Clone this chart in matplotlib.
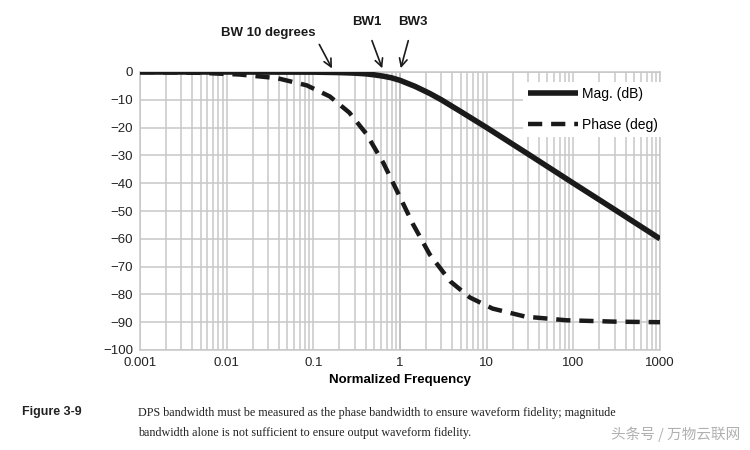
import matplotlib
matplotlib.use('Agg')
import matplotlib.pyplot as plt
from matplotlib.ticker import LogLocator, FixedLocator, NullFormatter

plt.rcParams['font.family'] = ['Liberation Sans', 'DejaVu Sans']

# values
mag_freq = [0.001, 0.01, 0.1, 0.2, 0.3, 0.4, 0.5, 0.64, 0.8, 1.0, 1.5, 2.2, 3.0,
            5.0, 10.0, 30.0, 100.0, 300.0, 1000.0]
mag_db = [0.0, 0.0, -0.05, -0.2, -0.4, -0.65, -1.0, -1.5, -2.1, -3.0, -5.2, -7.7,
          -10.0, -14.2, -20.0, -29.5, -40.0, -49.5, -60.0]

phase_freq = [0.001, 0.005, 0.014, 0.038, 0.084, 0.155, 0.26, 0.41, 0.64, 1.0,
              1.41, 2.2, 3.8, 6.4, 11.7, 28.0, 83.0, 300.0, 1000.0]
phase_deg = [0.0, -0.3, -0.9, -2.2, -4.8, -8.8, -14.6, -22.3, -32.6, -45.0,
             -54.7, -65.6, -75.3, -81.1, -85.1, -88.0, -89.3, -89.8, -90.0]

x_ticks = [0.001, 0.01, 0.1, 1, 10, 100, 1000]
x_tick_labels = ['0.001', '0.01', '0.1', '1', '10', '100', '1000']
y_ticks = list(range(-100, 1, 10))
y_tick_labels = ['\u2212' + str(-v) if v < 0 else '0' for v in y_ticks]

arrow_notes = [('BW 10 degrees', 0.17, (268, 33), (318, 42)),
               ('BW1', 0.64, (367, 22), (371, 38)),
               ('BW3', 1.0, (413, 22), (409, 38))]

caption_label = 'Figure 3-9'
caption_text = ('DPS bandwidth must be measured as the phase bandwidth to ensure waveform fidelity; magnitude\n'
                'bandwidth alone is not sufficient to ensure output waveform fidelity.')
watermark = '头条号 / 万物云联网'

W, H = 750, 450
fig = plt.figure(figsize=(7.5, 4.5), dpi=100)
ax = fig.add_axes([140 / W, 1 - 350 / H, 520 / W, 278 / H])

grid_c = '#c8c8c8'
ax.set_xscale('log')
ax.set_xlim(0.001, 1000)
ax.set_ylim(-100, 0)
ax.xaxis.set_major_locator(FixedLocator(x_ticks))
ax.xaxis.set_minor_locator(LogLocator(base=10, subs=range(2, 10), numticks=20))
ax.xaxis.set_minor_formatter(NullFormatter())
ax.set_xticks(x_ticks, x_tick_labels)
ax.set_yticks(y_ticks, y_tick_labels)
ax.grid(True, which='both', axis='x', color=grid_c, lw=1.1)
ax.grid(True, which='major', axis='y', color=grid_c, lw=1.1)
ax.axvline(1, color='#a8a8a8', lw=1.3, zorder=1)
ax.tick_params(which='both', length=0, labelsize=9.5, colors='#222222', pad=5)
for s in ax.spines.values():
    s.set_color(grid_c)
    s.set_linewidth(1.1)

ax.plot(mag_freq, mag_db, color='#1a1a1a', lw=4, solid_capstyle='butt',
        label='Mag. (dB)', zorder=4)
ax.plot(phase_freq, phase_deg, color='#1a1a1a', lw=3.2, dashes=(3.2, 2.0),
        label='Phase (deg)', zorder=3)

leg = ax.legend(loc='upper right', bbox_to_anchor=(1.018, 0.988), frameon=True,
                fontsize=10, handlelength=3.6, labelspacing=1.2,
                borderpad=0.35, handletextpad=0.3)
leg.get_frame().set_edgecolor('none')
leg.get_frame().set_facecolor('white')
leg.get_frame().set_alpha(1)
leg.get_frame().set_boxstyle('square', pad=0.0)

ax.set_xlabel('Normalized Frequency', fontsize=9.5, fontweight='bold', labelpad=4)

for text, f, (tx, ty), (sx, sy) in arrow_notes:
    ax.annotate('', xy=(f, 0.4), xycoords='data',
                xytext=(sx / W, 1 - sy / H), textcoords='figure fraction',
                arrowprops=dict(arrowstyle='->', color='#1a1a1a', lw=1.2,
                                mutation_scale=14), annotation_clip=False)
    fig.text(tx / W, 1 - ty / H, text, ha='center', va='center',
             fontsize=9.5, fontweight='bold', color='#1a1a1a')

fig.text(22 / W, 1 - 412 / H, caption_label, fontsize=9, fontweight='bold',
         va='center', ha='left', fontstretch='condensed', color='#222222')
fig.text(138 / W, 1 - 423 / H, caption_text, fontsize=8.7, family='Liberation Serif',
         va='center', ha='left', linespacing=1.85, color='#222222')
fig.text(740 / W, 1 - 434 / H, watermark, fontsize=10.5, ha='right', va='center',
         family=['Noto Sans CJK SC', 'DejaVu Sans'], color='#b0b0b0')

fig.savefig('out.png', dpi=100)
